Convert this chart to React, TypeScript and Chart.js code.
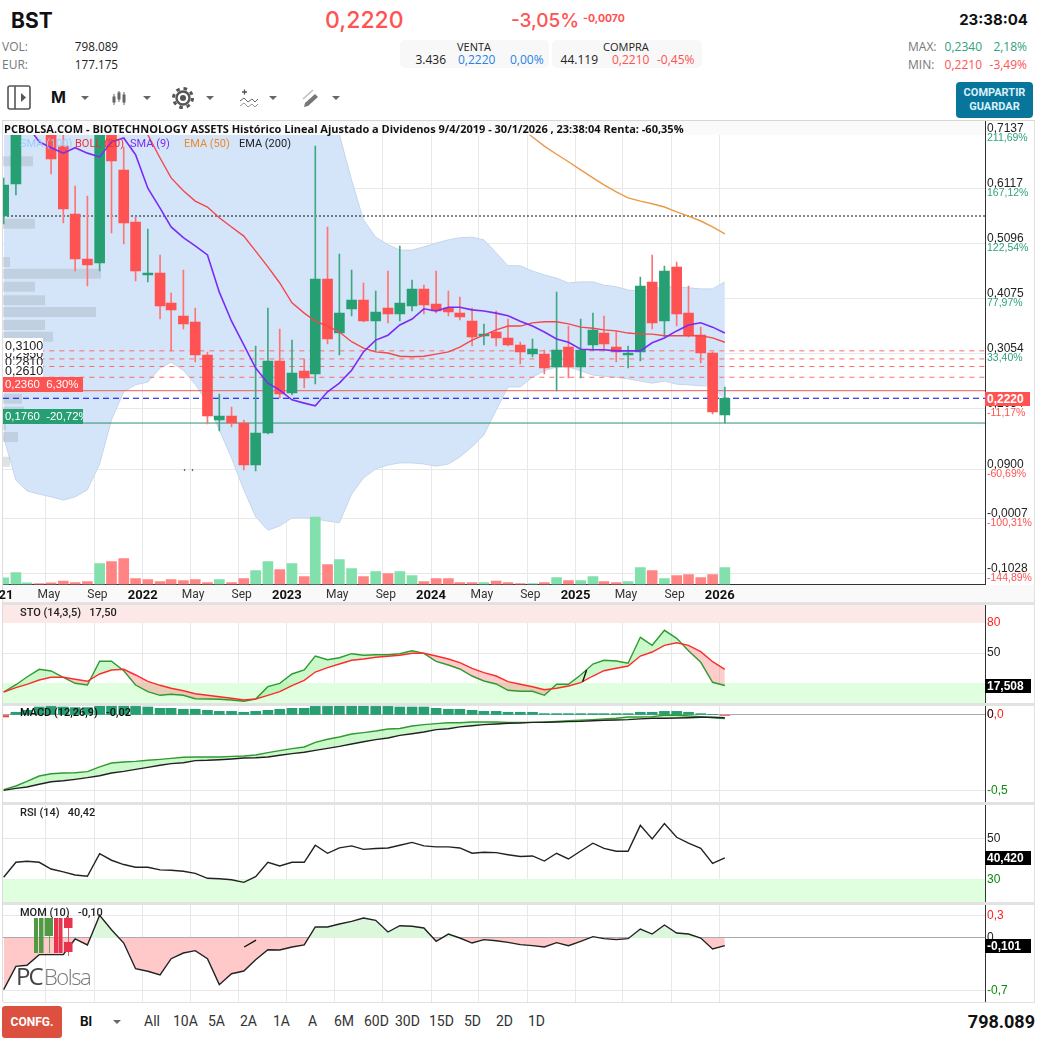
// BST monthly chart, PCBolsa style
import React, { useEffect, useRef } from "react";
import { Chart, registerables } from "chart.js";

Chart.register(...registerables);

const months = [
  "2021-01", "2021-02", "2021-03", "2021-04", "2021-05", "2021-06", "2021-07", "2021-08", "2021-09", "2021-10", "2021-11", "2021-12",
  "2022-01", "2022-02", "2022-03", "2022-04", "2022-05", "2022-06", "2022-07", "2022-08", "2022-09", "2022-10", "2022-11", "2022-12",
  "2023-01", "2023-02", "2023-03", "2023-04", "2023-05", "2023-06", "2023-07", "2023-08", "2023-09", "2023-10", "2023-11", "2023-12",
  "2024-01", "2024-02", "2024-03", "2024-04", "2024-05", "2024-06", "2024-07", "2024-08", "2024-09", "2024-10", "2024-11", "2024-12",
  "2025-01", "2025-02", "2025-03", "2025-04", "2025-05", "2025-06", "2025-07", "2025-08", "2025-09", "2025-10", "2025-11", "2025-12",
  "2026-01",
];

const opens = [
  0.5603, 0.6197, 0.74, 0.8, 0.7385, 0.6903, 0.5641, 0.4805, 0.4731, 0.7293, 0.6457, 0.5492,
  0.4508, 0.4545, 0.3988, 0.3747, 0.3636, 0.3023, 0.1817, 0.1891, 0.1761, 0.0981, 0.1575, 0.2912,
  0.2318, 0.2726, 0.267, 0.4434, 0.3432, 0.3877, 0.4044, 0.3654, 0.3896, 0.3784, 0.3933, 0.4248,
  0.397, 0.3896, 0.3803, 0.3654, 0.3376, 0.345, 0.3339, 0.3209, 0.3042, 0.3042, 0.28, 0.3172,
  0.28, 0.3209, 0.3432, 0.3172, 0.3023, 0.3079, 0.4378, 0.3654, 0.4657, 0.3803, 0.3394, 0.306,
  0.1909,
];
const closes = [
  0.6179, 0.7385, 0.79, 0.76, 0.6661, 0.5733, 0.4805, 0.4694, 0.7385, 0.6624, 0.5473, 0.4582,
  0.4545, 0.3933, 0.3858, 0.3599, 0.3023, 0.1891, 0.1891, 0.1761, 0.0981, 0.1575, 0.2912, 0.2299,
  0.2689, 0.2596, 0.4434, 0.332, 0.3803, 0.4044, 0.3654, 0.3821, 0.3784, 0.3988, 0.4248, 0.3951,
  0.384, 0.3821, 0.3729, 0.3357, 0.3413, 0.3339, 0.3209, 0.3079, 0.3134, 0.2782, 0.3116, 0.28,
  0.3116, 0.3487, 0.3227, 0.3079, 0.306, 0.4304, 0.3617, 0.4582, 0.3784, 0.3394, 0.306, 0.1965,
  0.222,
];
const highs = [
  0.6309, 0.7757, 0.81, 0.82, 0.7571, 0.72, 0.616, 0.5975, 0.7571, 0.7478, 0.6884, 0.5585,
  0.5362, 0.4879, 0.4174, 0.4601, 0.3896, 0.3079, 0.2299, 0.2058, 0.1817, 0.319, 0.3896, 0.3506,
  0.3302, 0.2949, 0.6903, 0.5399, 0.4898, 0.4601, 0.436, 0.4211, 0.4582, 0.5046, 0.4415, 0.4323,
  0.4582, 0.4211, 0.41, 0.3896, 0.3599, 0.384, 0.3691, 0.3264, 0.332, 0.3116, 0.4193, 0.3561,
  0.3691, 0.3803, 0.3747, 0.3469, 0.319, 0.4471, 0.4879, 0.4675, 0.4749, 0.4304, 0.3543, 0.3079,
  0.2429,
];
const lows = [
  0.5455, 0.5993, 0.7237, 0.735, 0.6383, 0.5473, 0.4582, 0.4304, 0.4582, 0.5288, 0.5084, 0.4397,
  0.4378, 0.3691, 0.3097, 0.3506, 0.2893, 0.1742, 0.1612, 0.1687, 0.0888, 0.087, 0.1557, 0.2225,
  0.2281, 0.2411, 0.2485, 0.3227, 0.3023, 0.3747, 0.3636, 0.3097, 0.3617, 0.3654, 0.384, 0.3784,
  0.3803, 0.3747, 0.3673, 0.319, 0.3209, 0.319, 0.319, 0.2856, 0.2986, 0.267, 0.2355, 0.2596,
  0.2596, 0.3116, 0.3097, 0.2893, 0.2782, 0.2912, 0.3506, 0.3357, 0.3561, 0.3357, 0.2875, 0.1928,
  0.1761,
];
// thousands of shares
const volumes = [
  313, 564, 78, 47, 78, 157, 94, 141, 987, 1081, 1222, 282,
  235, 141, 235, 188, 235, 94, 235, 94, 282, 658, 1081, 705,
  987, 376, 3165, 940, 1175, 752, 376, 611, 517, 611, 423, 141,
  282, 282, 94, 94, 94, 157, 94, 47, 47, 94, 329, 188,
  188, 376, 141, 94, 141, 799, 658, 282, 423, 470, 329, 470,
  798,
];
const bollUpper = [
  0.92, 0.98, 1.02, 1.05, 1.08, 1.1, 1.12, 1.15, 1.18, 1.22, 1.25, 1.26,
  1.17, 1.06, 0.98, 0.94, 0.93, 0.95, 0.95, 0.95, 0.99, 0.99, 0.96, 0.91,
  0.79, 0.76, 0.73, 0.72, 0.711, 0.627, 0.553, 0.521, 0.507, 0.497, 0.497, 0.503,
  0.51, 0.516, 0.52, 0.521, 0.516, 0.492, 0.468, 0.468, 0.458, 0.451, 0.445, 0.436,
  0.438, 0.438, 0.432, 0.429, 0.423, 0.421, 0.425, 0.429, 0.429, 0.427, 0.425, 0.425,
  0.438,
];
const bollLower = [
  0.15, 0.07, 0.05, 0.044, 0.039, 0.033, 0.039, 0.052, 0.1, 0.182, 0.234, 0.247,
  0.252, 0.278, 0.289, 0.274, 0.248, 0.213, 0.163, 0.111, 0.052, 0.002, -0.023, -0.015,
  0, 0, -0.002, -0.006, -0.009, 0.044, 0.074, 0.091, 0.098, 0.102, 0.102, 0.1,
  0.096, 0.1, 0.113, 0.132, 0.154, 0.2, 0.243, 0.243, 0.261, 0.273, 0.28, 0.28,
  0.273, 0.265, 0.263, 0.261, 0.258, 0.254, 0.25, 0.254, 0.248, 0.247, 0.245, 0.245,
  0.219,
];
const bollMid = [
  null, null, null, null, null, null, null, null, null, null, null, 0.753,
  0.711, 0.668, 0.631, 0.607, 0.588, 0.577, 0.557, 0.54, 0.523, 0.495, 0.466, 0.436,
  0.399, 0.38, 0.365, 0.356, 0.345, 0.327, 0.315, 0.308, 0.306, 0.3, 0.299, 0.3,
  0.304, 0.308, 0.317, 0.33, 0.339, 0.349, 0.356, 0.356, 0.362, 0.364, 0.364, 0.36,
  0.354, 0.352, 0.349, 0.347, 0.343, 0.341, 0.341, 0.338, 0.338, 0.338, 0.338, 0.334,
  0.326,
];
const sma9 = [
  0.776, 0.757, 0.729, 0.698, 0.687, 0.677, 0.687, 0.677, 0.67, 0.698, 0.705, 0.674,
  0.612, 0.575, 0.54, 0.52, 0.505, 0.488, 0.419, 0.365, 0.321, 0.278, 0.25, 0.237,
  0.219, 0.213, 0.208, 0.234, 0.25, 0.274, 0.308, 0.33, 0.339, 0.358, 0.369, 0.388,
  0.384, 0.391, 0.391, 0.386, 0.384, 0.38, 0.375, 0.365, 0.356, 0.345, 0.332, 0.326,
  0.313, 0.312, 0.312, 0.31, 0.31, 0.31, 0.325, 0.334, 0.347, 0.358, 0.362, 0.354,
  0.343,
];
const ema50 = [
  null, null, null, null, null, null, null, null, null, null, null, null,
  null, null, null, null, null, null, null, null, null, null, null, null,
  null, null, null, null, null, null, null, null, null, null, null, null,
  null, null, null, null, null, null, null, 0.724, 0.707, 0.69, 0.675, 0.661,
  0.646, 0.631, 0.618, 0.605, 0.594, 0.588, 0.583, 0.577, 0.568, 0.56, 0.551, 0.54,
  0.527,
];
const stoK = [
  11, 18.3, 26, 33.7, 32, 25.7, 19.7, 18, 41.7, 41.7, 32.3, 18,
  11.3, 7.7, 8.7, 7.7, 4.3, 4, 3.7, 3, 1.7, 4, 16.3, 19.7,
  29, 33, 47, 43.3, 45.3, 49.3, 47.7, 48.3, 48.3, 49.3, 52.3, 49.7,
  41.7, 38, 34, 27, 22, 19, 12.7, 11.7, 11.7, 7.7, 18.7, 18.7,
  28, 39, 42.7, 42, 39.7, 65.7, 57.7, 72.7, 64.7, 52.3, 40.7, 20.7,
  17.5,
];
const stoD = [
  11, 15.3, 18.7, 23, 25.7, 25.7, 23.7, 21.7, 29, 33, 33.7, 28,
  21.7, 17.7, 14.7, 12.3, 9.3, 7.7, 6.3, 4.7, 3, 4, 7.7, 11.3,
  17.3, 22.7, 31, 35.3, 39, 42.7, 44, 45.7, 46.7, 47.7, 49.7, 49.7,
  47, 44, 40.3, 34.7, 30.3, 27, 21.3, 18.7, 16.3, 13.3, 14.7, 17,
  20.3, 27, 32.3, 34.7, 37, 47, 51, 57.7, 60.3, 57.7, 51.3, 41.3,
  33.7,
];
const macdLine = [
  -0.494, -0.47, -0.439, -0.404, -0.389, -0.384, -0.382, -0.375, -0.344, -0.318, -0.311, -0.307,
  -0.3, -0.294, -0.287, -0.28, -0.278, -0.278, -0.278, -0.274, -0.272, -0.265, -0.249, -0.236,
  -0.223, -0.212, -0.181, -0.161, -0.146, -0.126, -0.117, -0.106, -0.093, -0.089, -0.073, -0.064,
  -0.057, -0.051, -0.051, -0.046, -0.046, -0.046, -0.049, -0.049, -0.049, -0.046, -0.042, -0.038,
  -0.035, -0.031, -0.026, -0.022, -0.013, -0.013, -0.011, -0.002, -0.002, -0.007, -0.011, -0.018,
  -0.024,
];
const macdSignal = [
  -0.499, -0.486, -0.477, -0.459, -0.442, -0.435, -0.426, -0.415, -0.402, -0.384, -0.373, -0.36,
  -0.347, -0.333, -0.322, -0.316, -0.302, -0.3, -0.296, -0.291, -0.285, -0.283, -0.278, -0.267,
  -0.256, -0.247, -0.234, -0.221, -0.208, -0.192, -0.177, -0.163, -0.152, -0.135, -0.124, -0.113,
  -0.097, -0.091, -0.079, -0.071, -0.064, -0.06, -0.055, -0.053, -0.049, -0.049, -0.046, -0.044,
  -0.042, -0.038, -0.035, -0.033, -0.031, -0.026, -0.022, -0.022, -0.02, -0.018, -0.015, -0.015,
  -0.018,
];
const macdHist = [
  -0.013, 0.018, 0.031, 0.053, 0.057, 0.053, 0.049, 0.049, 0.064, 0.064, 0.064, 0.057,
  0.053, 0.044, 0.044, 0.038, 0.038, 0.031, 0.024, 0.024, 0.018, 0.024, 0.031, 0.038,
  0.044, 0.044, 0.057, 0.057, 0.064, 0.064, 0.064, 0.057, 0.057, 0.053, 0.053, 0.053,
  0.044, 0.038, 0.038, 0.031, 0.024, 0.024, 0.018, 0.018, 0.018, 0.009, 0.009, 0.009,
  0.009, 0.009, 0.009, 0.009, 0.009, 0.018, 0.018, 0.024, 0.024, 0.018, 0.009, 0.002,
  -0.004,
];
const rsi = [
  31, 38.3, 38.8, 38.3, 35, 33.6, 32.1, 31.5, 42.5, 39.3, 37.2, 35.9,
  35.9, 34.6, 34.4, 33.9, 32.9, 30.5, 30.3, 29.8, 28.5, 31.3, 38.3, 36.5,
  38.3, 38.3, 46.6, 42.7, 45.3, 46.3, 44.6, 45, 45.3, 46.6, 48, 46.3,
  45.8, 45.8, 45.3, 42.7, 43.2, 43, 42, 41.1, 41.4, 38.9, 42.7, 39.9,
  43.8, 47.6, 45.1, 43.7, 43.7, 56.3, 49.7, 57.2, 50.5, 47.6, 45.1, 37.8,
  40.42,
];
const mom = [
  -0.689, -0.378, -0.364, -0.222, -0.222, -0.222, -0.013, -0.093, 0.302, 0.111, -0.067, -0.409,
  -0.444, -0.493, -0.276, -0.2, -0.169, -0.276, -0.622, -0.476, -0.44, -0.289, -0.156, -0.16,
  -0.12, -0.093, 0.147, 0.147, 0.187, 0.222, 0.267, 0.236, 0.08, 0.164, 0.156, 0.133,
  -0.044, 0.053, 0, -0.067, -0.022, -0.036, -0.058, -0.089, -0.102, -0.12, -0.062, -0.102,
  -0.044, 0.018, -0.009, -0.022, -0.009, 0.12, 0.053, 0.173, 0.067, 0.053, 0, -0.147,
  -0.101,
];

// volume by price, left side of the main panel
const profilePrices = [0.662, 0.546, 0.475, 0.453, 0.429, 0.404, 0.382, 0.358, 0.336, 0.221, 0.197, 0.172, 0.15, 0.104];
const profileVolumes = [30, 32, 7, 98, 32, 42, 93, 42, 50, 19, 21, 3, 15, 7];

const xTickDates = [
  "2021-01-01", "2021-05-01", "2021-09-01", "2022-01-01", "2022-05-01", "2022-09-01", "2023-01-01", "2023-05-01",
  "2023-09-01", "2024-01-01", "2024-05-01", "2024-09-01", "2025-01-01", "2025-05-01", "2025-09-01", "2026-01-01",
];
const xTickLabels = ["2021", "May", "Sep", "2022", "May", "Sep", "2023", "May", "Sep", "2024", "May", "Sep", "2025", "May", "Sep", "2026"];

const priceTicks = [0.7137, 0.6117, 0.5096, 0.4075, 0.3054, 0.2034, 0.09, -0.0007, -0.1028];
const priceLabels = ["0,7137", "0,6117", "0,5096", "0,4075", "0,3054", "0,2034", "0,0900", "-0,0007", "-0,1028"];
const pctLabels = ["211,69%", "167,12%", "122,54%", "77,97%", "33,40%", "-11,17%", "-60,69%", "-100,31%", "-144,89%"];

const alertLevels = [0.31, 0.295, 0.281, 0.261];
const stopUp = 0.236;
const stopDown = 0.176;
const lastClose = 0.222;
const maxLine = 0.5603;

const GREEN = "#26a073";
const RED = "#ff5252";
const GRID = "#e8e8e8";
const FONT = "'Liberation Sans', Arial, sans-serif";

const toDay = (s: string) => Date.parse(s) / 864e5;
const candleDays = months.map((m) => toDay(m + "-14"));
const xTickDays = xTickDates.map(toDay);
const xMin = toDay("2022-01-01") - 353.7;
const xMax = toDay("2022-01-01") + 2132.7;

const series = (vals: (number | null)[]) => vals.map((y, i) => ({ x: candleDays[i], y }));
const spanLine = (y: number) => [{ x: xMin, y }, { x: xMax, y }];

const hiddenLine = { pointRadius: 0, pointHoverRadius: 0, tension: 0, borderWidth: 1.4 };

const xAxis = (showLabels: boolean, height: number) => ({
  type: "linear",
  min: xMin,
  max: xMax,
  offset: false,
  bounds: "data",
  grid: { color: GRID, drawTicks: false, offset: false, lineWidth: 1 },
  border: { display: showLabels, color: "#333" },
  afterBuildTicks: (s: any) => {
    s.ticks = xTickDays.map((value) => ({ value }));
  },
  afterFit: (s: any) => {
    s.height = height;
    s.paddingLeft = 0;
    s.paddingRight = 0;
  },
  ticks: {
    display: showLabels,
    autoSkip: false,
    maxRotation: 0,
    minRotation: 0,
    padding: 3,
    color: (ctx: any) => (xTickLabels[ctx.index]?.length === 4 ? "#111" : "#333"),
    font: (ctx: any) =>
      xTickLabels[ctx.index]?.length === 4
        ? { family: "Roboto", size: 13, weight: "bold" }
        : { family: "Roboto", size: 12 },
    // month names sit a little right of their grid line
    callback: (_v: any, i: number) => (xTickLabels[i]?.length === 4 ? xTickLabels[i] : "  " + xTickLabels[i]),
  },
});

const yAxis = (
  min: number,
  max: number,
  tickVals: number[],
  labels: string[],
  colors: string[],
  offset = 0,
  fontSize = 12
) => ({
  type: "linear",
  position: "right",
  min,
  max,
  bounds: "data",
  weight: 1,
  grid: {
    drawTicks: false,
    lineWidth: 1,
    color: (ctx: any) => (ctx.tick?.value === 0 ? "#aaaaaa" : GRID),
  },
  border: { color: "#333" },
  afterBuildTicks: (s: any) => {
    s.ticks = tickVals.map((value) => ({ value }));
  },
  afterFit: (s: any) => {
    s.width = 50;
    s.paddingTop = 0;
    s.paddingBottom = 0;
  },
  ticks: {
    autoSkip: false,
    padding: 2,
    labelOffset: offset,
    color: (ctx: any) => colors[ctx.index] || "#222",
    font: { family: FONT, size: fontSize },
    callback: (_v: any, i: number) => labels[i],
  },
});

const baseOptions = (scales: any, left = 3) => ({
  animation: false,
  responsive: false,
  maintainAspectRatio: false,
  layout: { autoPadding: false, padding: { left, right: 0, top: 0, bottom: 0 } },
  events: [],
  plugins: { legend: { display: false }, tooltip: { enabled: false } },
  scales,
});

// the percent axis takes no room in the layout, it shares the price axis column
const pctAxisWidth = {
  id: "pctAxisWidth",
  afterLayout: (c: any) => {
    const s = c.scales.yPct;
    if (s) s.right = s.left + 50;
  },
};

const T = ({ x, y, r, c, s = 12, w = 400, f = "'Open Sans', sans-serif", children, z, ls }: any) => (
  <span
    style={{
      position: "absolute",
      left: r === undefined ? x : undefined,
      right: r === undefined ? undefined : 1048 - r,
      top: y,
      transform: "translateY(-50%)",
      color: c || "#222",
      fontSize: s,
      fontWeight: w,
      fontFamily: f,
      whiteSpace: "nowrap",
      lineHeight: 1,
      zIndex: z,
      letterSpacing: ls,
    }}
  >
    {children}
  </span>
);

const Box = ({ x, y, w, h, bg, r = 0, z, children }: any) => (
  <div
    style={{
      position: "absolute",
      left: x,
      top: y,
      width: w,
      height: h,
      background: bg,
      borderRadius: r,
      zIndex: z,
      color: "#fff",
      overflow: "hidden",
    }}
  >
    {children}
  </div>
);

const Arrow = ({ x, y = 98 }: any) => (
  <div
    style={{
      position: "absolute",
      left: x - 4,
      top: y - 2,
      width: 0,
      height: 0,
      borderLeft: "4px solid transparent",
      borderRight: "4px solid transparent",
      borderTop: "4px solid #666",
    }}
  />
);

const Tag = ({ x, y, w, h, bg, color = "#fff", text, z = 5, bold = true, size = 12 }: any) => (
  <Box x={x} y={y} w={w} h={h} bg={bg} z={z}>
    <T x={2} y={h / 2} c={color} s={size} w={bold ? 700 : 400} f={FONT}>
      {text}
    </T>
  </Box>
);

export default function App() {
  const mainRef = useRef<HTMLCanvasElement>(null);
  const stoRef = useRef<HTMLCanvasElement>(null);
  const macdRef = useRef<HTMLCanvasElement>(null);
  const rsiRef = useRef<HTMLCanvasElement>(null);
  const momRef = useRef<HTMLCanvasElement>(null);

  useEffect(() => {
    const bars = (vals: any[], colors: any, thickness: number, extra: any = {}) => ({
      type: "bar",
      data: vals,
      backgroundColor: colors,
      barThickness: thickness,
      grouped: false,
      borderWidth: 0,
      ...extra,
    });
    const candleColor = opens.map((o, i) => (closes[i] >= o ? GREEN : RED));
    const wickColor = opens.map((o, i) => (closes[i] >= o ? "#3fa883" : "#ff7474"));
    const volColor = opens.map((o, i) => (closes[i] >= o && i !== 12 ? "#82e0ac" : "#ff8585"));

    const levelLine = (y: number, color: string, dash: number[], from = xMin, order = 30) => ({
      type: "line",
      data: [{ x: from, y }, { x: xMax, y }],
      borderColor: color,
      borderDash: dash,
      borderWidth: 1,
      pointRadius: 0,
      order,
    });

    const charts = [
      new Chart(mainRef.current as any, {
        type: "line",
        plugins: [pctAxisWidth],
        data: {
          datasets: [
            {
              data: series(bollUpper),
              ...hiddenLine,
              borderWidth: 1,
              borderColor: "#c5d6ea",
              backgroundColor: "#d5e5f9",
              fill: "+1",
              order: 50,
            },
            { data: series(bollLower), ...hiddenLine, borderWidth: 1, borderColor: "#c5d6ea", order: 49 },
            ...profilePrices.map((p, i) => ({
              data: [{ x: 0, y: p }, { x: profileVolumes[i], y: p }],
              xAxisID: "xProfile",
              borderColor: "rgba(150,160,170,0.3)",
              borderWidth: 10,
              pointRadius: 0,
              order: 45,
            })),
            bars(
              series(volumes),
              volColor,
              10,
              { yAxisID: "yVol", order: 40 }
            ),
            ...alertLevels.map((p) => levelLine(p, "#ff6a6a", [5, 5], toDay("2021-03-20"))),
            levelLine(stopUp, "#f05a5a", [], toDay("2021-07-20")),
            levelLine(lastClose, "#0000ee", [6, 4]),
            levelLine(stopDown, "#2f8f6c", [], toDay("2021-07-20")),
            levelLine(maxLine, "#111", [2, 2]),
            bars(
              months.map((_, i) => ({ x: candleDays[i], y: [lows[i], highs[i]] })),
              wickColor,
              1,
              { order: 20 }
            ),
            bars(
              months.map((_, i) => ({ x: candleDays[i], y: [opens[i], closes[i]] })),
              candleColor,
              10,
              { order: 19 }
            ),
            { data: series(bollMid), ...hiddenLine, borderColor: "#f4474a", order: 10 },
            { data: series(ema50), ...hiddenLine, borderColor: "#ea9a45", order: 10 },
            { data: series(sma9), ...hiddenLine, borderWidth: 1.6, borderColor: "#7a2cf5", order: 9 },
            {
              data: [{ x: toDay("2022-04-17"), y: 0.0888 }, { x: toDay("2022-05-07"), y: 0.0888 }],
              showLine: false,
              pointRadius: 0.7,
              pointBackgroundColor: "#333",
              order: 8,
            },
          ],
        } as any,
        options: baseOptions({
          x: xAxis(true, 19.5),
          xProfile: { type: "linear", display: false, min: 0, max: 982, offset: false },
          y: yAxis(-0.1237, 0.7385, priceTicks, priceLabels, [], -5),
          yPct: {
            ...yAxis(-0.1237, 0.7385, priceTicks, pctLabels, priceTicks.map((v) => (v > 0.229 ? "#2ea27c" : RED)), 5, 10.5),
            weight: 0,
            grid: { display: false, drawTicks: false },
            border: { display: false },
            afterFit: (s: any) => {
              s.width = 0;
              s.paddingTop = 0;
              s.paddingBottom = 0;
            },
          },
          yVol: { type: "linear", display: false, min: 0, max: 21830 },
        }) as any,
      }),
      new Chart(stoRef.current as any, {
        type: "line",
        data: {
          datasets: [
            { data: spanLine(100), borderWidth: 0, pointRadius: 0, backgroundColor: "#fde8e8", fill: { value: 80 }, order: 30 },
            { data: spanLine(20), borderWidth: 0, pointRadius: 0, backgroundColor: "#dfffdf", fill: { value: 0 }, order: 30 },
            {
              data: series(stoK),
              ...hiddenLine,
              borderColor: "#2f9a2f",
              fill: { target: "+1", above: "rgba(120,240,120,0.38)", below: "rgba(255,100,100,0.33)" },
              order: 6,
            },
            { data: series(stoD), ...hiddenLine, borderColor: "#ff2b2b", order: 5 },
            {
              data: [{ x: toDay("2025-01-19"), y: 21.3 }, { x: toDay("2025-01-29"), y: 33 }],
              ...hiddenLine,
              borderColor: "#111",
              order: 4,
            },
          ],
        } as any,
        options: baseOptions({
          x: xAxis(false, 0),
          y: yAxis(0, 100, [80, 50, 20], ["80", "50", ""], ["#ff2020", "#222", "#222"]),
        }) as any,
      }),
      new Chart(macdRef.current as any, {
        type: "line",
        data: {
          datasets: [
            {
              data: series(macdLine),
              ...hiddenLine,
              borderColor: "#2f9a2f",
              fill: { target: "+1", above: "rgba(120,240,120,0.38)", below: "rgba(255,100,100,0.33)" },
              order: 6,
            },
            { data: series(macdSignal), ...hiddenLine, borderColor: "#222", order: 5 },
            bars(series(macdHist), macdHist.map((v) => (v >= 0 ? GREEN : "#ff4040")), 10, { order: 10 }),
          ],
        } as any,
        options: baseOptions({
          x: xAxis(false, 0),
          y: yAxis(-0.5828, 0.0728, [0, -0.5], ["0,0", "-0,5"], ["#ff2020", "#0a8a0a"]),
        }) as any,
      }),
      new Chart(rsiRef.current as any, {
        type: "line",
        data: {
          datasets: [
            { data: spanLine(30), borderWidth: 0, pointRadius: 0, backgroundColor: "#dfffdf", fill: { value: 18.44 }, order: 30 },
            { data: series(rsi), ...hiddenLine, borderColor: "#222", order: 5 },
          ],
        } as any,
        options: baseOptions({
          x: xAxis(false, 0),
          y: yAxis(18.44, 66.73, [50, 30], ["50", "30"], ["#222", "#0a8a0a"]),
        }) as any,
      }),
      new Chart(momRef.current as any, {
        type: "line",
        data: {
          datasets: [
            {
              data: series(mom),
              ...hiddenLine,
              borderColor: "#222",
              fill: { target: { value: 0 }, above: "#dcf7dc", below: "#ffc9c9" },
              order: 5,
            },
            {
              data: [{ x: toDay("2022-09-15"), y: -0.12 }, { x: toDay("2022-10-15"), y: -0.027 }],
              ...hiddenLine,
              borderColor: "#111",
              order: 4,
            },
          ],
        } as any,
        options: baseOptions({
          x: xAxis(false, 0),
          y: yAxis(-0.8533, 0.4533, [0.3, 0, -0.7], ["0,3", "", "-0,7"], ["#ff2020", "#222", "#0a8a0a"]),
        }) as any,
      }),
    ];

    return () => charts.forEach((c) => c.destroy());
    // eslint-disable-next-line react-hooks/exhaustive-deps
  }, []);

  const canvasStyle = (top: number): React.CSSProperties => ({ position: "absolute", left: 0, top, display: "block" });
  const sep = (y: number) => <Box x={3} y={y} w={1032} h={3} bg="#e2e2e2" z={3} />;
  const periods: [string, number][] = [
    ["All", 144], ["10A", 173], ["5A", 208], ["2A", 240], ["1A", 273], ["A", 308], ["6M", 334], ["60D", 364],
    ["30D", 395], ["15D", 429], ["5D", 464], ["2D", 496], ["1D", 528],
  ];

  return (
    <div style={{ position: "absolute", left: 0, top: 0, width: 1048, height: 1043, background: "#fff", overflow: "hidden" }}>
      {/* header */}
      <T x={11} y={20} s={21} w={700} f="Inter" c="#111">BST</T>
      <T x={325} y={20} s={23} w={500} f="Inter" c={RED}>0,2220</T>
      <T x={511} y={20} s={19} w={500} f="Inter" c={RED}>-3,05%</T>
      <T x={583} y={19} s={10.5} w={700} f="Inter" c={RED}>-0,0070</T>
      <T r={1028} y={19} s={15} w={700} f="Inter" c="#111">23:38:04</T>

      <T x={2} y={47} c="#777">VOL:</T>
      <T r={118} y={47} s={11.7}>798.089</T>
      <T x={2} y={65} c="#777">EUR:</T>
      <T r={118} y={65} s={11.7}>177.175</T>

      <Box x={400} y={40} w={149} h={28} bg="#f8f8f8" r={5} />
      <Box x={552} y={40} w={150} h={28} bg="#f8f8f8" r={5} />
      <T x={457} y={46} s={11}>VENTA</T>
      <T r={446} y={60}>3.436</T>
      <T x={458} y={60} c="#2a80e8">0,2220</T>
      <T x={510} y={60} c="#2a80e8">0,00%</T>
      <T x={603} y={46} s={11}>COMPRA</T>
      <T r={598} y={60}>44.119</T>
      <T x={612} y={60} c={RED}>0,2210</T>
      <T x={657} y={60} c={RED}>-0,45%</T>

      <T x={908} y={47} c="#777">MAX:</T>
      <T r={982} y={47} c="#2ea27c">0,2340</T>
      <T r={1027} y={47} c="#2ea27c">2,18%</T>
      <T x={908} y={65} c="#777">MIN:</T>
      <T r={982} y={65} c={RED}>0,2210</T>
      <T r={1027} y={65} c={RED}>-3,49%</T>

      {/* toolbar */}
      <svg style={{ position: "absolute", left: 0, top: 80 }} width={350} height={36}>
        <rect x={8} y={6} width={22} height={23} rx={2} fill="none" stroke="#555" strokeWidth={1.6} />
        <line x1={15} y1={6} x2={15} y2={29} stroke="#555" strokeWidth={1.6} />
        <path d="M21 13 l5 4.5 l-5 4.5 z" fill="#555" />
        <g stroke="#666" strokeWidth={1}>
          <line x1={114} y1={14} x2={114} y2={25} />
          <line x1={119} y1={11} x2={119} y2={22} />
          <line x1={124} y1={12} x2={124} y2={25} />
          <rect x={113} y={17} width={2} height={5} fill="#666" />
          <rect x={118} y={13} width={2} height={6} fill="#666" />
          <rect x={123} y={15} width={2} height={7} fill="#666" />
        </g>
        <circle cx={183} cy={18} r={6.5} fill="none" stroke="#555" strokeWidth={2.4} />
        <circle cx={183} cy={18} r={9.5} fill="none" stroke="#555" strokeWidth={3} strokeDasharray="3.6 3.9" />
        <circle cx={183} cy={18} r={3} fill="#555" />
        <path d="M242 12 h5 M244.5 9.5 v5" stroke="#555" strokeWidth={1.3} />
        <path d="M240 21 l4 -3 l4 4 l4 -3 l3 3 l3 -3" fill="none" stroke="#666" />
        <path d="M240 26 l4 -3 l4 4 l4 -3 l3 3 l3 -3" fill="none" stroke="#999" />
        <path d="M305 23 l10 -9 l3 3 l-10 9 l-4 1 z" fill="#777" />
        <path d="M303 19 l10 -9" stroke="#bbb" strokeWidth={1.4} />
      </svg>
      <T x={51} y={97} s={16} w={700} f="Inter" c="#111">M</T>
      <Arrow x={85} />
      <Arrow x={147} />
      <Arrow x={210} />
      <Arrow x={273} />
      <Arrow x={336} />
      <Box x={956} y={82} w={77} h={36} bg="#08769b" r={4}>
        <div style={{ textAlign: "center", font: "700 11px Roboto", lineHeight: "14px", paddingTop: 4, color: "#d8f1fa" }}>
          COMPARTIR
          <br />
          GUARDAR
        </div>
      </Box>

      {/* chart frame */}
      <Box x={3} y={585} w={1032} h={18} bg="#f9f9f9" />
      <Box x={2} y={120} w={1} h={882} bg="#ddd" />
      <Box x={1034} y={120} w={1} h={882} bg="#e2e2e2" />

      <canvas ref={mainRef} width={1035} height={484} style={canvasStyle(120)} />
      <canvas ref={stoRef} width={1035} height={100} style={canvasStyle(603)} />
      <canvas ref={macdRef} width={1035} height={99} style={canvasStyle(704)} />
      <canvas ref={rsiRef} width={1035} height={99} style={canvasStyle(804)} />
      <canvas ref={momRef} width={1035} height={98} style={canvasStyle(904)} />

      {/* title and legend over the plot */}
      <Box x={3} y={120} w={982} h={15} bg="#fafafa" z={2} />
      <Box x={2} y={120} w={1033} h={1} bg="#ddd6d0" z={3} />
      <T x={4} y={128} s={11} w={700} c="#111" z={3}>
        PCBOLSA.COM - BIOTECHNOLOGY ASSETS Histórico Lineal Ajustado a Dividenos 9/4/2019 - 30/1/2026 , 23:38:04 Renta: -60,35%
      </T>
      <T x={20} y={143} s={11} f="Roboto" c="#98cdfb" z={3}>SMA (100)</T>
      <T x={75} y={143} s={11} f="Roboto" c="#f03030" z={3}>BOLL (20)</T>
      <T x={130} y={143} s={11} f="Roboto" c="#7a2cf5" z={3}>SMA (9)</T>
      <T x={184} y={143} s={11} f="Roboto" c="#ea8a2a" z={3}>EMA (50)</T>
      <T x={239} y={143} s={11} f="Roboto" c="#222" z={3}>EMA (200)</T>

      {/* level tags on the left */}
      <Tag x={3} y={338} w={40} h={15} bg="#fff" color="#222" text="0,3100" bold={false} size={12.5} z={9} />
      <Tag x={3} y={352} w={40} h={7} bg="#fff" color="#222" text="" z={5} />
      <T x={5} y={354} s={12.5} f={FONT} z={6}>0,2950</T>
      <Tag x={3} y={360} w={40} h={8} bg="#fff" color="#222" text="" z={7} />
      <T x={5} y={362} s={12.5} f={FONT} z={7}>0,2810</T>
      <Tag x={3} y={365} w={40} h={12} bg="#fff" color="#222" text="0,2610" bold={false} size={12.5} z={8} />
      <Box x={3} y={377} w={80} h={14.5} bg={RED} z={8}>
        <T x={2} y={7.5} c="#fff" s={11.4} w={500} f={FONT}>0,2360&nbsp;&nbsp;6,30%</T>
      </Box>
      <Box x={3} y={409} w={80} h={14.5} bg={GREEN} z={8}>
        <T x={2} y={7.5} c="#fff" s={11.4} w={500} f={FONT}>0,1760&nbsp;&nbsp;-20,72%</T>
      </Box>
      <Tag x={985} y={392} w={45} h={14} bg={RED} text="0,2220" />

      {sep(602)}
      {sep(703)}
      {sep(802)}
      {sep(902)}
      <Box x={3} y={1002} w={1032} h={1} bg="#e2e2e2" z={3} />

      {/* indicator captions */}
      <T x={20} y={612} s={11} w={500} f="Roboto" z={4}>STO (14,3,5)&nbsp;&nbsp; 17,50</T>
      <T x={20} y={712} s={11} w={500} f="Roboto" c="#111" z={4}>MACD (12,26,9)&nbsp;&nbsp; -0,02</T>
      <T x={20} y={812} s={11} w={500} f="Roboto" z={4}>RSI (14)&nbsp;&nbsp; 40,42</T>
      <T x={20} y={912} s={11} w={500} f="Roboto" z={4}>MOM (10)&nbsp;&nbsp; -0,10</T>

      <T x={987} y={714} s={12} f={FONT} c="#222" z={4}>0</T>
      <T x={987} y={937} s={12} f={FONT} c="#222" z={4}>0</T>
      <Tag x={985} y={679} w={46} h={14} bg="#000" text="17,508" />
      <Tag x={985} y={851} w={46} h={14} bg="#000" text="40,420" />
      <Tag x={985} y={939} w={46} h={14} bg="#000" text="-0,101" />

      {/* logo */}
      <svg style={{ position: "absolute", left: 30, top: 916, zIndex: 4 }} width={50} height={42}>
        <g fill="#4f9a42">
          <rect x={4} y={2} width={4} height={35} />
          <rect x={9} y={2} width={4.5} height={35} />
          <rect x={14.5} y={2} width={8.5} height={18} />
          <rect x={19} y={20} width={0.8} height={17} />
        </g>
        <g fill="#e8334f">
          <rect x={24} y={2} width={4} height={35} />
          <rect x={28.5} y={2} width={4} height={35} />
          <rect x={34} y={2} width={8.5} height={10} />
          <rect x={34} y={26} width={8.5} height={10} />
          <rect x={38} y={0} width={0.8} height={40} />
        </g>
      </svg>
      <T x={16} y={976} s={24} w={500} f="'Open Sans'" c="#444" z={4} ls={-2}>PC</T>
      <T x={44} y={976} s={22} w={300} f="'Open Sans'" c="#777" z={4} ls={-1.5}>Bolsa</T>

      {/* footer */}
      <Box x={2} y={1006} w={60} h={32} bg="#dc5040" r={3}>
        <div style={{ textAlign: "center", font: "700 12px Roboto", lineHeight: "32px", color: "#fff" }}>CONFG.</div>
      </Box>
      <T x={80} y={1021} s={13} w={700} f="Inter" c="#111">Bl</T>
      <Arrow x={117} y={1022} />
      {periods.map(([p, x]) => (
        <T key={p} x={x} y={1021} s={14} f="Roboto" c="#333">{p}</T>
      ))}
      <T r={1035} y={1022} s={18} w={700} f="Roboto" c="#111">798.089</T>
    </div>
  );
}
